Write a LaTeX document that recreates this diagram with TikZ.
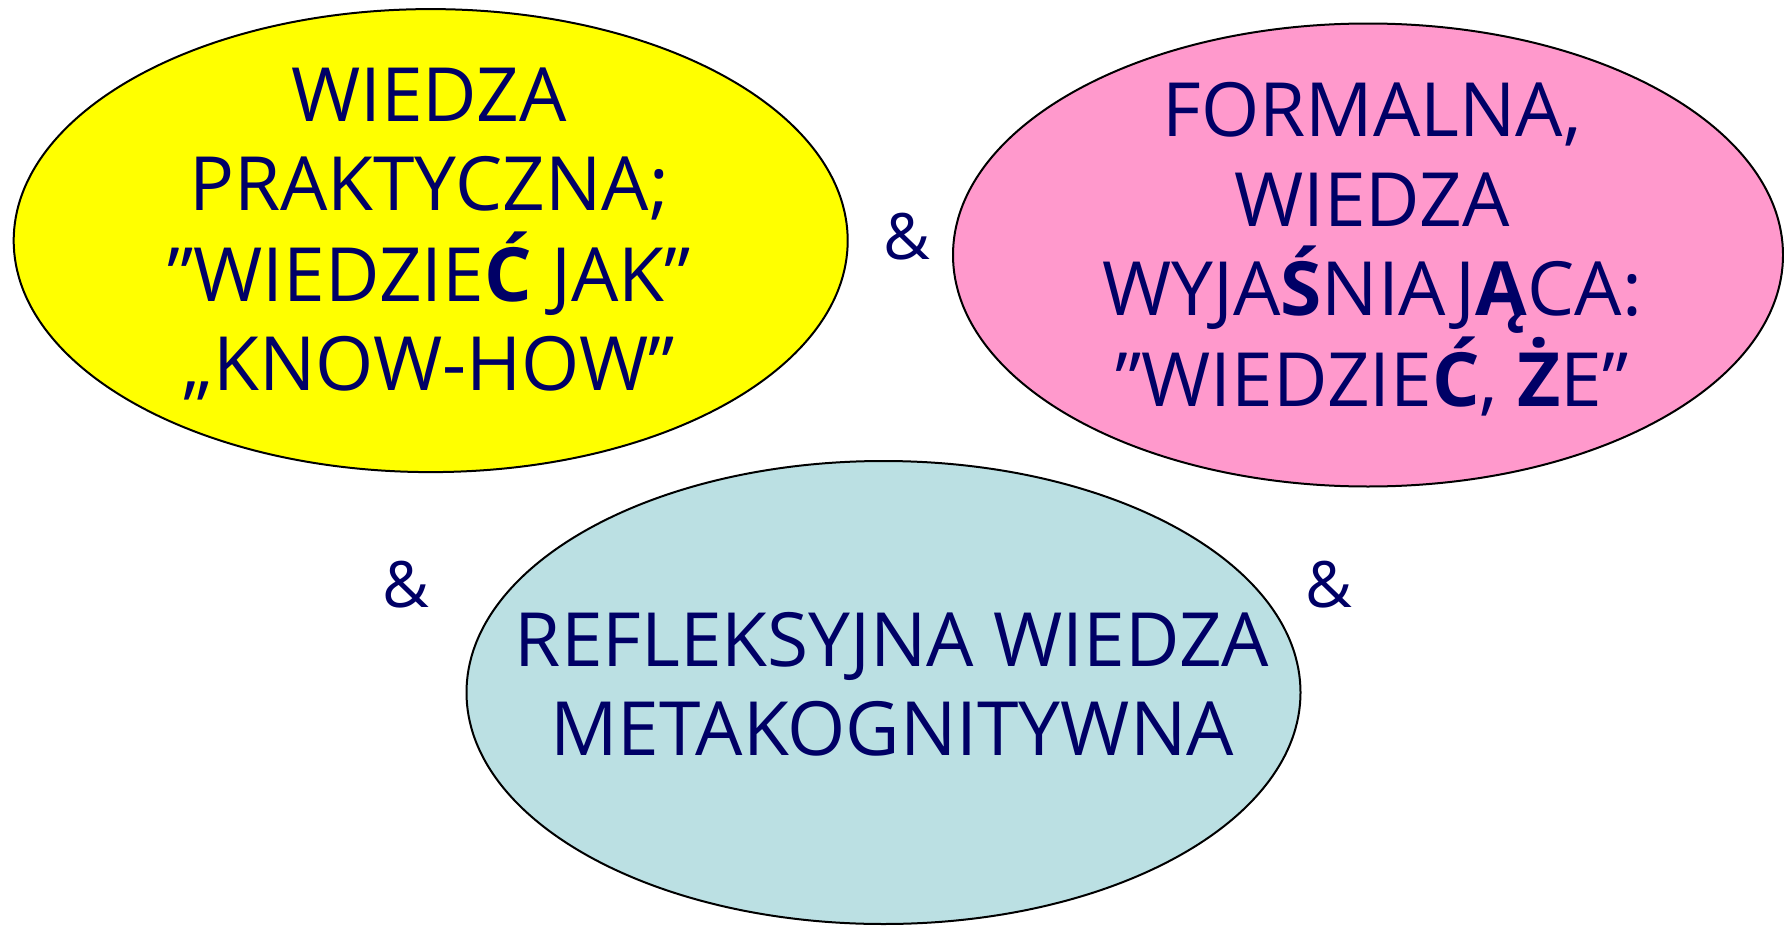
\documentclass[tikz,border=0pt]{standalone}
\usepackage{fontspec}
\setmainfont{Open Sans}
\usetikzlibrary{shapes.geometric}
\definecolor{txt}{RGB}{0,0,102}
\definecolor{yel}{RGB}{255,255,0}
\definecolor{pnk}{RGB}{255,153,204}
\definecolor{blu}{RGB}{187,224,227}
\begin{document}
\begin{tikzpicture}[x=0.5pt,y=-0.5pt,
  blob/.style={ellipse,draw=black,line width=1pt,inner sep=0pt,minimum width=417pt,minimum height=231.5pt},
  lbl/.style={text=txt,font=\fontsize{37.4}{44.9}\selectfont,inner sep=0pt,anchor=base},
  amp/.style={text=txt,font=\fontsize{32}{38}\selectfont,inner sep=0pt}]
\useasboundingbox (0,0) rectangle (1784,926);
\node[blob,fill=yel] (yellow) at (430.7,240.6) {};
\node[blob,fill=pnk,minimum width=415pt] (pink) at (1368,255) {};
\node[blob,fill=blu] (blue) at (883.5,692.5) {};
\node[lbl] (y1) at (429,121.7) {WIEDZA};
\node[lbl] (y2) at (429,210.7) {PRAKTYCZNA;};
\node[lbl] (y3) at (429,301) {"WIEDZIE\textbf{Ć} JAK"};
\node[lbl] (y4) at (429,390) {„KNOW-HOW"};
\node[lbl] (p1) at (1372,136.7) {FORMALNA,};
\node[lbl] (p2) at (1372,226) {WIEDZA};
\node[lbl] (p3) at (1372,315.7) {WYJA\textbf{Ś}NIAJ\textbf{Ą}CA:};
\node[lbl] (p4) at (1372,406) {"WIEDZIE\textbf{Ć}, \textbf{Ż}E"};
\node[lbl] (b1) at (892,666) {REFLEKSYJNA WIEDZA};
\node[lbl] (b2) at (892,755) {METAKOGNITYWNA};
\node[amp] (a1) at (907,237) {\&};
\node[amp] (a2) at (406,585) {\&};
\node[amp] (a3) at (1329,585) {\&};
\end{tikzpicture}
\end{document}
